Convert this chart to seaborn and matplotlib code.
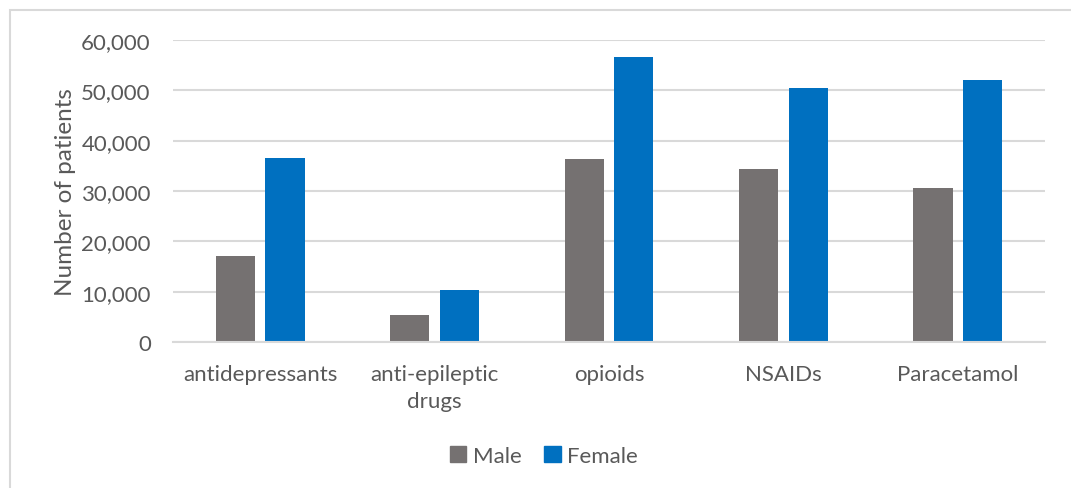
import matplotlib
matplotlib.use("Agg")
import matplotlib.pyplot as plt
import matplotlib.patches as mpatches
from matplotlib.ticker import FuncFormatter
import seaborn as sns
import pandas as pd

categories = ["antidepressants", "anti-epileptic\ndrugs", "opioids", "NSAIDs", "Paracetamol"]
male = [17000, 5400, 36400, 34300, 30600]
female = [36500, 10300, 56700, 50400, 52000]
series = ["Male", "Female"]
colors = {"Male": "#757171", "Female": "#0070C0"}
yticks = [0, 10000, 20000, 30000, 40000, 50000, 60000]

df = pd.DataFrame({
    "category": categories * 2,
    "sex": ["Male"] * len(categories) + ["Female"] * len(categories),
    "patients": male + female,
})

sns.set_theme(style="white")
plt.rcParams["font.family"] = ["Lato", "DejaVu Sans"]
text_color = "#595959"

fig = plt.figure(figsize=(10.71, 4.89), dpi=100)
ax = fig.add_axes([173 / 1071, 1 - 343 / 489, (1045 - 173) / 1071, (343 - 41) / 489])

sns.barplot(data=df, x="category", y="patients", hue="sex", hue_order=series,
            palette=colors, width=0.568, gap=0.21, saturation=1,
            edgecolor="none", legend=False, ax=ax)

ax.set_ylim(0, 60000)
ax.set_yticks(yticks)
ax.yaxis.set_major_formatter(FuncFormatter(lambda v, p: f"{int(v):,}"))
ax.set_xlim(-0.5, len(categories) - 0.5)
ax.grid(axis="y", color="#d9d9d9", linewidth=1.5)
ax.set_axisbelow(True)
for s in ["top", "right", "left"]:
    ax.spines[s].set_visible(False)
ax.spines["bottom"].set_color("#d9d9d9")
ax.spines["bottom"].set_linewidth(1.5)
ax.tick_params(axis="both", length=0, labelsize=16, colors=text_color)
ax.tick_params(axis="y", pad=16)
ax.tick_params(axis="x", pad=16)
for lbl in ax.get_xticklabels():
    lbl.set_linespacing(1.45)
ax.set_xlabel("")
ax.set_ylabel("Number of patients", fontsize=17.5, color=text_color, labelpad=4)

handles = [mpatches.Patch(color=colors[s], label=s) for s in series]
fig.legend(handles=handles, loc="center", bbox_to_anchor=(544 / 1071, 1 - 457 / 489),
           ncol=2, frameon=False, fontsize=16, handlelength=0.75, handleheight=0.75,
           handletextpad=0.3, columnspacing=1.0, labelcolor=text_color)

# outer chart frame
fig.patches.append(mpatches.Rectangle((10 / 1071, -0.05), 1.1, 1 - 11 / 489 + 0.05,
                                      transform=fig.transFigure, fill=False,
                                      edgecolor="#d9d9d9", linewidth=1.5))

fig.savefig("out.png", dpi=100, facecolor="white")
